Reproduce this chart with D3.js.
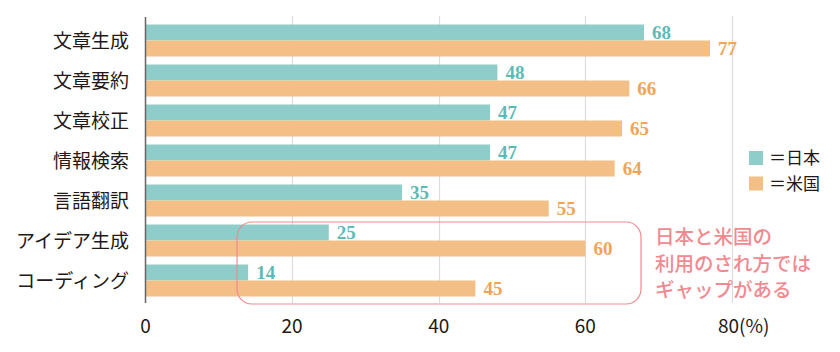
<!DOCTYPE html>
<html><head><meta charset="utf-8">
<script src="https://cdn.jsdelivr.net/npm/d3@7"></script>
<style>
html,body{margin:0;padding:0;background:#fff;}
svg{display:block;}
</style>
</head><body>
<svg id="c" width="840" height="352"></svg>
<script>
const categories = ["文章生成","文章要約","文章校正","情報検索","言語翻訳","アイデア生成","コーディング"];
const japan = [68,48,47,47,35,25,14];
const usa = [77,66,65,64,55,60,45];
const seriesNames = ["日本","米国"];
const tickValues = [0,20,40,60,80];
const tickLabels = ["0","20","40","60","80(%)"];
const noteLines = ["日本と米国の","利用のされ方では","ギャップがある"];

const colors = ["#8ecdc9","#f4bf86"];
const labelColors = ["#5dbab5","#efa457"];
const pink = "#f08a90";
const jp = "'Noto Sans CJK JP','Noto Sans',sans-serif";

const svg = d3.select("#c");
const x = d3.scaleLinear().domain([0,80]).range([145.5,732]);
const y = d3.scaleBand().domain(categories).range([20.5,300.5]).paddingInner(0.2).paddingOuter(0.1);
const sub = d3.scaleBand().domain([0,1]).range([0,y.bandwidth()]);

// grid
svg.append("g").selectAll("line").data(tickValues.slice(1)).join("line")
  .attr("x1",d=>Math.round(x(d))+0.5).attr("x2",d=>Math.round(x(d))+0.5)
  .attr("y1",16).attr("y2",303)
  .attr("stroke","#dcdcdc").attr("stroke-width",1.2);

// bars
const data = categories.map((c,i)=>({c, vals:[japan[i],usa[i]]}));
const g = svg.append("g").selectAll("g").data(data).join("g")
  .attr("transform",d=>`translate(0,${y(d.c)})`);
g.selectAll("rect").data(d=>d.vals.map((v,k)=>({v,k}))).join("rect")
  .attr("x",x(0)).attr("y",d=>sub(d.k)).attr("height",sub.bandwidth())
  .attr("width",d=>x(d.v)-x(0)).attr("fill",d=>colors[d.k]);
g.selectAll("text").data(d=>d.vals.map((v,k)=>({v,k}))).join("text")
  .attr("x",d=>x(d.v)+8).attr("y",d=>sub(d.k)+sub.bandwidth()/2)
  .attr("dy","0.36em")
  .attr("font-family","'Liberation Serif','DejaVu Serif',serif")
  .attr("font-weight","bold").attr("font-size",19)
  .attr("fill",d=>labelColors[d.k]).text(d=>d.v);

// axis line
svg.append("line").attr("x1",145.5).attr("x2",145.5).attr("y1",17).attr("y2",303)
  .attr("stroke","#666").attr("stroke-width",1.5);

// category labels
svg.append("g").selectAll("text").data(categories).join("text")
  .attr("x",129).attr("y",d=>y(d)+y.bandwidth()/2+1).attr("dy","0.36em")
  .attr("text-anchor","end").attr("font-family",jp).attr("font-size",19)
  .attr("fill","#231815").text(d=>d);

// tick labels
svg.append("g").selectAll("text").data(tickValues).join("text")
  .attr("x",(d,i)=>i===4? x(d)-14 : x(d)).attr("y",333)
  .attr("text-anchor",(d,i)=>i===4?"start":"middle")
  .attr("font-family",jp).attr("font-size",19).attr("fill","#231815")
  .text((d,i)=>tickLabels[i]);

// legend
const leg = svg.append("g").attr("transform","translate(749,151)");
seriesNames.forEach((n,i)=>{
  leg.append("rect").attr("x",0).attr("y",i*25.5).attr("width",14).attr("height",14).attr("fill",colors[i]);
  leg.append("text").attr("x",20).attr("y",i*25.5+7).attr("dy","0.36em")
    .attr("font-family",jp).attr("font-size",17).attr("fill","#231815").text("＝"+n);
});

// annotation
svg.append("rect").attr("x",237).attr("y",222).attr("width",404).attr("height",82)
  .attr("rx",15).attr("fill","none").attr("stroke",pink).attr("stroke-width",1.2);
svg.append("g").selectAll("text").data(noteLines).join("text")
  .attr("x",655).attr("y",(d,i)=>244+i*26.5)
  .attr("font-family",jp).attr("font-weight","500").attr("font-size",19.5)
  .attr("fill",pink).text(d=>d);
</script>
</body></html>
